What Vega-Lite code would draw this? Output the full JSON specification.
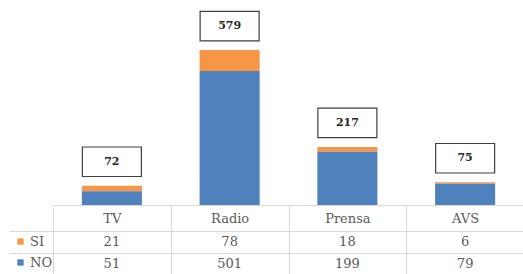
{
  "$schema": "https://vega.github.io/schema/vega-lite/v6.json",
  "padding": {"left": 8, "top": 0, "right": 0, "bottom": 0},
  "background": "white",
  "spacing": 0,
  "config": {"view": {"stroke": null}, "font": "DejaVu Serif", "text": {"font": "DejaVu Serif"}, "axis": {"labelFont": "DejaVu Serif"}, "legend": {"labelFont": "DejaVu Serif"}},
  "datasets": {
    "d": [
      {"cat": "TV", "serie": "SI", "value": 21, "etiqueta": 72},
      {"cat": "TV", "serie": "NO", "value": 51, "etiqueta": 72},
      {"cat": "Radio", "serie": "SI", "value": 78, "etiqueta": 579},
      {"cat": "Radio", "serie": "NO", "value": 501, "etiqueta": 579},
      {"cat": "Prensa", "serie": "SI", "value": 18, "etiqueta": 217},
      {"cat": "Prensa", "serie": "NO", "value": 199, "etiqueta": 217},
      {"cat": "AVS", "serie": "SI", "value": 6, "etiqueta": 75},
      {"cat": "AVS", "serie": "NO", "value": 79, "etiqueta": 75}
    ]
  },
  "vconcat": [
    {
      "width": 471,
      "height": 205,
      "data": {"name": "d"},
      "layer": [
        {
          "mark": {"type": "bar", "width": {"band": 0.51}},
          "encoding": {
            "x": {"field": "cat", "type": "nominal", "sort": ["TV", "Radio", "Prensa", "AVS"], "scale": {"paddingInner": 0, "paddingOuter": 0}, "axis": {"labels": false, "ticks": false, "title": null, "domainColor": "#d9d9d9", "grid": false}},
            "y": {"field": "value", "type": "quantitative", "scale": {"domain": [0, 766], "nice": false}, "axis": null},
            "color": {"field": "serie", "type": "nominal", "scale": {"domain": ["SI", "NO"], "range": ["#F79646", "#4F81BD"]}, "legend": null},
            "order": {"field": "serie", "sort": "ascending"}
          }
        },
        {
          "transform": [{"aggregate": [{"op": "sum", "field": "value", "as": "top"}], "groupby": ["cat", "etiqueta"]}],
          "mark": {"type": "point", "shape": "M-1,-0.5H1V0.5H-1Z", "size": 3481, "filled": true, "fill": "white", "stroke": "#3f3f3f", "strokeWidth": 1.2, "opacity": 1, "yOffset": -24},
          "encoding": {
            "x": {"field": "cat", "type": "nominal", "sort": ["TV", "Radio", "Prensa", "AVS"]},
            "y": {"field": "top", "type": "quantitative", "axis": null}
          }
        },
        {
          "transform": [{"aggregate": [{"op": "sum", "field": "value", "as": "top"}], "groupby": ["cat", "etiqueta"]}],
          "mark": {"type": "text", "font": "DejaVu Serif", "fontWeight": "bold", "fontSize": 11, "yOffset": -24, "color": "#262626", "baseline": "middle"},
          "encoding": {
            "x": {"field": "cat", "type": "nominal", "sort": ["TV", "Radio", "Prensa", "AVS"]},
            "y": {"field": "top", "type": "quantitative", "axis": null},
            "text": {"field": "etiqueta", "type": "quantitative"}
          }
        }
      ]
    },
    {
      "width": 471,
      "height": 44,
      "data": {"name": "d"},
      "layer": [
        {
          "mark": {"type": "text", "font": "DejaVu Serif", "fontSize": 13, "color": "#595959", "baseline": "middle"},
          "encoding": {
            "x": {"field": "cat", "type": "nominal", "sort": ["TV", "Radio", "Prensa", "AVS"], "scale": {"paddingInner": 0, "paddingOuter": 0},
              "axis": {"orient": "top", "title": null, "labelFont": "DejaVu Serif", "labelFontSize": 13, "labelColor": "#595959", "labelAngle": 0, "ticks": true, "tickSize": 25, "tickColor": "#d9d9d9", "tickBand": "extent", "labelPadding": -12.5, "labelBaseline": "middle", "domainColor": "#d9d9d9", "grid": true, "gridColor": "#d9d9d9", "gridOpacity": 1}},
            "y": {"field": "serie", "type": "nominal", "sort": ["SI", "NO"], "scale": {"paddingInner": 0, "paddingOuter": 0},
              "axis": {"labels": false, "title": null, "domain": false, "ticks": true, "tickSize": 44, "tickColor": "#d9d9d9", "tickBand": "extent", "grid": true, "gridColor": "#d9d9d9", "gridOpacity": 1}},
            "text": {"field": "value", "type": "quantitative"}
          }
        },
        {
          "mark": {"type": "square", "opacity": 0},
          "encoding": {
            "x": {"field": "cat", "type": "nominal", "sort": ["TV", "Radio", "Prensa", "AVS"]},
            "y": {"field": "serie", "type": "nominal", "sort": ["SI", "NO"]},
            "color": {"field": "serie", "type": "nominal", "scale": {"domain": ["SI", "NO"], "range": ["#F79646", "#4F81BD"]},
              "legend": {"orient": "none", "legendX": -39, "legendY": 4, "title": null, "symbolType": "square", "symbolSize": 40, "symbolOpacity": 1, "symbolStrokeWidth": 0, "labelFont": "DejaVu Serif", "labelFontSize": 13, "labelColor": "#595959", "rowPadding": 7, "padding": 0, "labelOffset": 3}}
          }
        }
      ]
    }
  ],
  "resolve": {"scale": {"color": "independent"}, "legend": {"color": "independent"}}
}
